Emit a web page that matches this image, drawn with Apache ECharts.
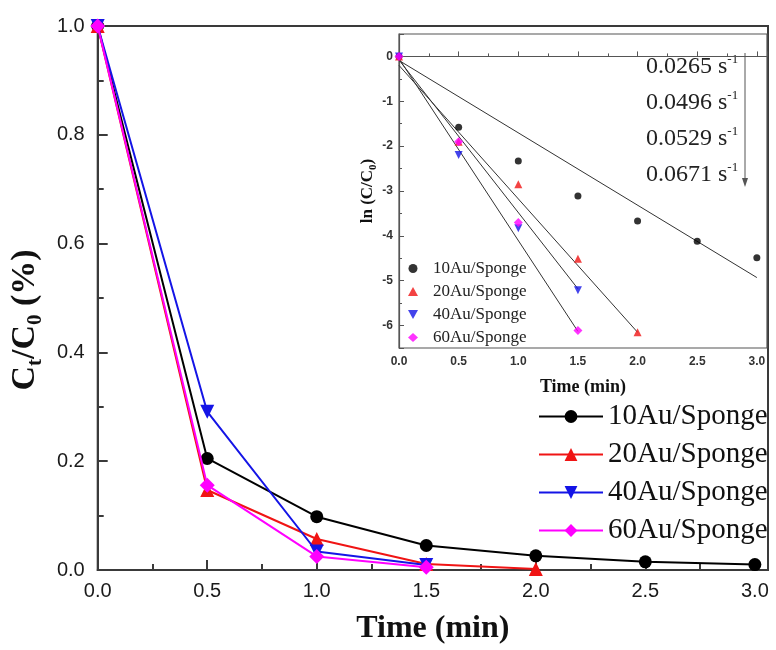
<!DOCTYPE html>
<html><head><meta charset="utf-8">
<script src="https://cdn.jsdelivr.net/npm/echarts@6/dist/echarts.min.js"></script>
<style>html,body{margin:0;padding:0;background:#fff}#c{width:776px;height:650px}</style>
</head><body><div id="c"></div>
<script>
// ---- data ----
const seriesNames = ['10Au/Sponge', '20Au/Sponge', '40Au/Sponge', '60Au/Sponge'];
const times = [0, 0.5, 1.0, 1.5, 2.0, 2.5, 3.0];
const main10 = [1.0, 0.205, 0.098, 0.045, 0.026, 0.015, 0.010];
const main20 = [1.0, 0.147, 0.057, 0.011, 0.002];
const main40 = [1.0, 0.291, 0.034, 0.009];
const main60 = [1.0, 0.156, 0.025, 0.005];
const ln10 = [0, -1.58, -2.33, -3.11, -3.67, -4.12, -4.49];
const ln20 = [0, -1.90, -2.85, -4.51, -6.15];
const ln40 = [0, -2.20, -3.83, -5.21];
const ln60 = [0, -1.90, -3.70, -6.11];
const fitStartT = [0, 0, 0, 0];
const fitEndT = [3.0, 2.0, 1.5, 1.5];
const fitStartY = [-0.09, -0.20, -0.08, -0.05];
const fitEndY = [-4.93, -6.15, -5.18, -6.13];
const rateLabels = ['0.0265', '0.0496', '0.0529', '0.0671'];

// ---- styles ----
const colors = ['#000000', '#f01414', '#1414e6', '#ff00ff'];
const invTri = 'path://M0,0 L10,0 L5,9 Z';
const symbols = ['circle', 'triangle', invTri, 'diamond'];
const mainSizes = [13, 14, 14, 15];
const insetSizes = [7, 8, 8, 9];
const serif = 'Liberation Serif';
const sans = 'Liberation Sans';
const axisCol = '#3a3a3a';

const mainVals = [main10, main20, main40, main60];
const lnVals = [ln10, ln20, ln40, ln60];
const pair = (vals) => vals.map((v, i) => [times[i], v]);

const series = [];
mainVals.forEach((vals, k) => {
  series.push({
    type: 'line', name: seriesNames[k], xAxisIndex: 0, yAxisIndex: 0,
    data: pair(vals), symbol: symbols[k], symbolSize: mainSizes[k],
    clip: false, z: 3 + k,
    itemStyle: { color: colors[k] },
    lineStyle: { color: colors[k], width: 2 }
  });
});
lnVals.forEach((vals, k) => {
  series.push({
    type: 'line', name: 'fit' + k, xAxisIndex: 1, yAxisIndex: 1,
    data: [[fitStartT[k], fitStartY[k]], [fitEndT[k], fitEndY[k]]],
    symbol: 'none', silent: true, z: 2,
    lineStyle: { color: '#333', width: 1 }
  });
});
lnVals.forEach((vals, k) => {
  series.push({
    type: 'scatter', name: seriesNames[k] + ' ', xAxisIndex: 1, yAxisIndex: 1,
    data: pair(vals), symbol: symbols[k], symbolSize: insetSizes[k], z: 4,
    itemStyle: { color: colors[k] }
  });
});

const rich = {
  a: { fontFamily: serif, fontWeight: 'bold', fontSize: 34, lineHeight: 42, color: '#111' },
  s: { fontFamily: serif, fontWeight: 'bold', fontSize: 21, lineHeight: 21, verticalAlign: 'bottom', color: '#111' }
};
const richSmall = {
  a: { fontFamily: serif, fontWeight: 'bold', fontSize: 17, lineHeight: 22, color: '#111' },
  s: { fontFamily: serif, fontWeight: 'bold', fontSize: 11, lineHeight: 11, verticalAlign: 'bottom', color: '#111' }
};

const graphic = [];
rateLabels.forEach((r, i) => {
  graphic.push({
    type: 'text', left: 646, top: 53 + i * 36,
    style: {
      text: '{n|' + r + ' s}{p|-1}',
      rich: {
        n: { fontFamily: serif, fontSize: 24, lineHeight: 28, fill: '#222' },
        p: { fontFamily: serif, fontSize: 13, lineHeight: 13, verticalAlign: 'top', fill: '#222' }
      }
    }
  });
});
graphic.push({ type: 'line', shape: { x1: 745, y1: 53, x2: 745, y2: 182 }, style: { stroke: '#555', lineWidth: 1 } });
graphic.push({ type: 'polygon', shape: { points: [[742, 178], [748, 178], [745, 187]] }, style: { fill: '#555' } });

const option = {
  backgroundColor: '#fff',
  animation: false,
  grid: [
    { left: 96, top: 26, right: 8, bottom: 78, show: true, borderColor: axisCol, borderWidth: 2 },
    { left: 399, top: 34, right: 9, bottom: 302, show: true, borderColor: '#555', borderWidth: 1.2 }
  ],
  legend: [
    {
      data: seriesNames, orient: 'vertical', left: 533, top: 397, itemWidth: 64, itemHeight: 16, itemGap: 9,
      textStyle: { fontFamily: serif, fontSize: 29, lineHeight: 29, color: '#111' }, selectedMode: false
    },
    {
      data: seriesNames.map(n => n + ' '), orient: 'vertical', left: 403, top: 255, itemWidth: 10, itemHeight: 9, itemGap: 6,
      symbolKeepAspect: true,
      textStyle: { fontFamily: serif, fontSize: 17, lineHeight: 17, color: '#222', padding: [0, 0, 0, 10] }, selectedMode: false
    }
  ],
  xAxis: [
    {
      type: 'value', gridIndex: 0, min: 0, max: 3.06, interval: 0.5,
      name: 'Time (min)', nameLocation: 'middle', nameGap: 43,
      nameTextStyle: { fontFamily: serif, fontWeight: 'bold', fontSize: 32, color: '#111' },
      axisLine: { lineStyle: { color: axisCol, width: 2 } },
      axisTick: { inside: true, length: 10, lineStyle: { color: axisCol, width: 2 } },
      minorTick: { show: true, splitNumber: 2, length: 6, lineStyle: { color: axisCol, width: 2 } },
      axisLabel: { fontFamily: sans, fontSize: 20, color: '#1a1a1a', margin: 11, showMaxLabel: false,
        formatter: v => v.toFixed(1) },
      splitLine: { show: false }
    },
    {
      type: 'value', gridIndex: 1, min: 0, max: 3.085, interval: 0.5,
      name: 'Time (min)', nameLocation: 'middle', nameGap: 30,
      nameTextStyle: { fontFamily: serif, fontWeight: 'bold', fontSize: 18, color: '#111' },
      axisLine: { lineStyle: { color: '#555', width: 1.2 } },
      axisTick: { inside: true, length: 5, lineStyle: { color: '#555' } },
      minorTick: { show: true, splitNumber: 2, length: 3, lineStyle: { color: '#555' } },
      axisLabel: { fontFamily: sans, fontWeight: 'bold', fontSize: 12, color: '#333', margin: 8, showMaxLabel: false,
        formatter: v => v.toFixed(1) },
      splitLine: { show: false }
    }
  ],
  yAxis: [
    {
      type: 'value', gridIndex: 0, min: 0, max: 1.0, interval: 0.2,
      name: '{a|C}{s|t}{a|/C}{s|0}{a| (%)}', nameLocation: 'middle', nameGap: 50, nameRotate: 90,
      nameTextStyle: { rich: rich, padding: [0, 44, 0, 0] },
      axisLine: { lineStyle: { color: axisCol, width: 2 } },
      axisTick: { inside: true, length: 10, lineStyle: { color: axisCol, width: 2 } },
      minorTick: { show: true, splitNumber: 2, length: 6, lineStyle: { color: axisCol, width: 2 } },
      axisLabel: { fontFamily: sans, fontSize: 20, color: '#1a1a1a', margin: 13, formatter: v => v.toFixed(1) },
      splitLine: { show: false }
    },
    {
      type: 'value', gridIndex: 1, min: -6.5, max: 0.5, splitNumber: 7,
      name: '{a|ln (C/C}{s|0}{a|)}', nameLocation: 'middle', nameGap: 20, nameRotate: 90,
      nameTextStyle: { rich: richSmall },
      axisLine: { lineStyle: { color: '#555', width: 1.2 } },
      axisTick: { inside: true, length: 5, lineStyle: { color: '#555' } },
      minorTick: { show: true, splitNumber: 2, length: 3, lineStyle: { color: '#555' } },
      axisLabel: { fontFamily: sans, fontWeight: 'bold', fontSize: 12, color: '#333', margin: 6,
        showMinLabel: false, showMaxLabel: false },
      splitLine: { show: false }
    }
  ],
  graphic: graphic,
  series: series
};
const chart = echarts.init(document.getElementById('c'), null, { renderer: 'canvas' });
chart.setOption(option);
</script>
</body></html>
